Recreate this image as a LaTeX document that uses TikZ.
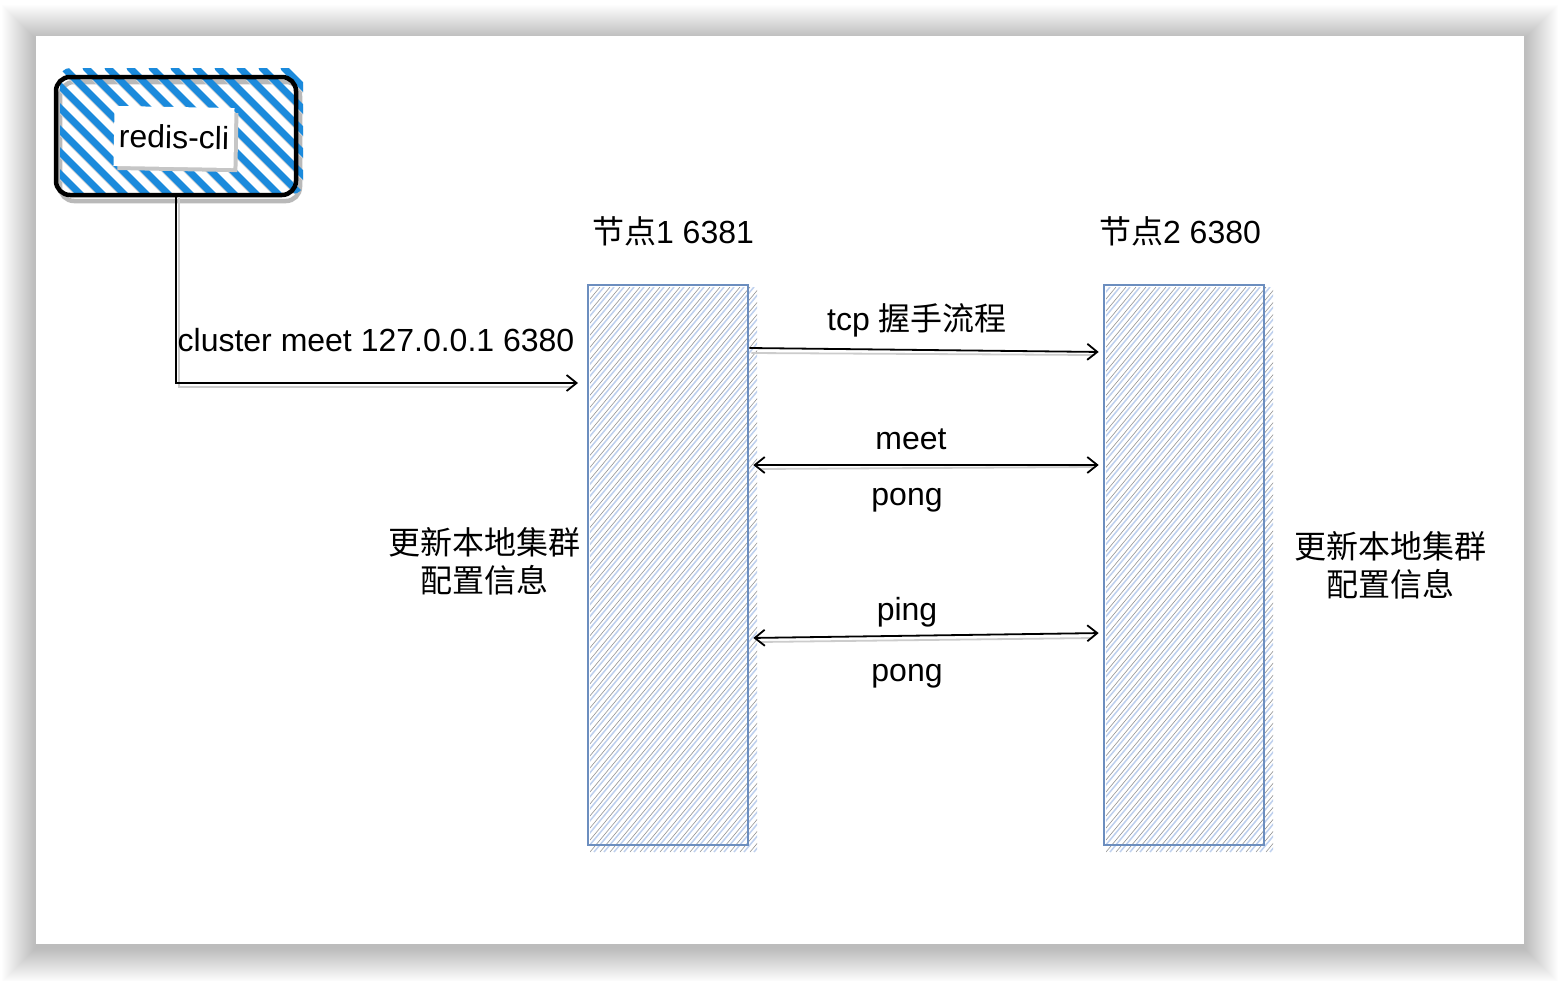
\documentclass[tikz,border=0pt]{standalone}
\usepackage{fontspec}
\setmainfont{Liberation Sans}
\newfontfamily\cjk{Noto Sans CJK SC}
\usetikzlibrary{arrows.meta,calc}
\definecolor{hatchblue}{RGB}{27,138,220}
\definecolor{nodeblue}{RGB}{108,142,191}
\definecolor{lightblue}{RGB}{190,208,238}
\begin{document}
\begin{tikzpicture}[x=1pt,y=-1pt,
  txt/.style={font=\fontsize{32}{38}\selectfont, inner sep=0pt, align=center},
  barb/.tip={Straight Barb[length=10pt,width=16pt,line width=1.8pt]},
  conn/.style={line width=1.8pt, black},
  ghost/.style={line width=1.8pt, gray!40},
  nodebox/.style={draw=nodeblue, line width=2.6pt, minimum width=160pt, minimum height=560pt, inner sep=0pt}
]
\useasboundingbox (0,0) rectangle (1560,980);
% card shadow
\foreach \i in {0,...,34} {
  \fill[black,opacity=0.0075] ({36-\i},{39-\i}) rectangle ({1524+\i},{948+\i});
}
\fill[white] (36,36) rectangle (1524,944);

% node hatches
\begin{scope}
\clip (590,287) rectangle (757,852);
\foreach \x in {120,130,...,770} {
  \draw[lightblue, line width=1.5pt] (\x+4,852) -- (\x+4+470,287);
  \draw[gray!85, line width=0.6pt] (\x,852) -- (\x+470,287);
}
\end{scope}
\begin{scope}
\clip (1106,287) rectangle (1273,852);
\foreach \x in {636,646,...,1286} {
  \draw[lightblue, line width=1.5pt] (\x+4,852) -- (\x+4+470,287);
  \draw[gray!85, line width=0.6pt] (\x,852) -- (\x+470,287);
}
\end{scope}
\node[nodebox] (n1) at (668,565) {};
\node[nodebox] (n2) at (1184,565) {};

% redis-cli box
\draw[gray!55, line width=4.5pt, rounded corners=14pt] (60,82) rectangle (300,201);
\begin{scope}
\clip[rounded corners=10pt] (60,68) rectangle (303,194);
\foreach \x in {-90,-68,...,320} {
  \draw[gray!30, line width=6pt, line cap=round] (\x+4,74) -- (\x+4+130,204);
}
\foreach \x in {-90,-68,...,320} {
  \draw[hatchblue, line width=7pt, line cap=round] (\x,68) -- (\x+130,198);
}
\end{scope}
\node[draw, line width=4.5pt, rounded corners=14pt, minimum width=240pt, minimum height=118pt] (cli) at (176,136) {};
\fill[gray!45, rotate around={-1:(174,137)}] (118,112) rectangle (238,171);
\node[fill=white, txt, minimum width=120pt, minimum height=60pt, rotate=-1] (clilbl) at (174,137) {redis-cli};

% coordinates
\coordinate (ytcp1) at (0,348);
\coordinate (ytcp2) at (0,352);
\coordinate (ymeet) at (0,465);
\coordinate (yping1) at (0,638);
\coordinate (yping2) at (0,633);
\coordinate (c1) at (578,383);

% connector from redis-cli
\draw[ghost] ($(cli.south)+(3,0)$) |- ($(c1)+(-6,4)$);
\draw[conn, -{barb}] (cli.south) |- (c1);
\node[txt] (lmeet) at (376,340) {cluster meet 127.0.0.1 6380};

% tcp
\draw[ghost] ($(n1.east |- ytcp1)+(2,5)$) -- ($(n2.west |- ytcp2)+(-8,3)$);
\draw[conn, -{barb}, shorten >=4pt] (n1.east |- ytcp1) -- (n2.west |- ytcp2);
\node[txt] (ltcp) at (917,320) {tcp {\cjk 握手流程}};

% meet / pong
\draw[ghost] ($(n1.east |- ymeet)+(10,4)$) -- ($(n2.west |- ymeet)+(-10,2)$);
\draw[conn, {barb}-{barb}, shorten >=4pt, shorten <=4pt] (n1.east |- ymeet) -- (n2.west |- ymeet);
\node[txt] (lm) at (911,439) {meet};
\node[txt] (lp1) at (907,500) {pong};

% ping / pong
\draw[ghost] ($(n1.east |- yping1)+(10,4)$) -- ($(n2.west |- yping2)+(-10,5)$);
\draw[conn, {barb}-{barb}, shorten >=4pt, shorten <=4pt] (n1.east |- yping1) -- (n2.west |- yping2);
\node[txt] (lpi) at (907,612) {ping};
\node[txt] (lp2) at (907,676) {pong};

% titles
\node[txt] (t1) at (673,231) {{\cjk 节点}1 6381};
\node[txt] (t2) at (1180,231) {{\cjk 节点}2 6380};
\node[txt, font=\fontsize{32}{38}\selectfont\cjk] (u1) at (484,561) {更新本地集群\\配置信息};
\node[txt, font=\fontsize{32}{38}\selectfont\cjk] (u2) at (1390,565) {更新本地集群\\配置信息};
\end{tikzpicture}
\end{document}
